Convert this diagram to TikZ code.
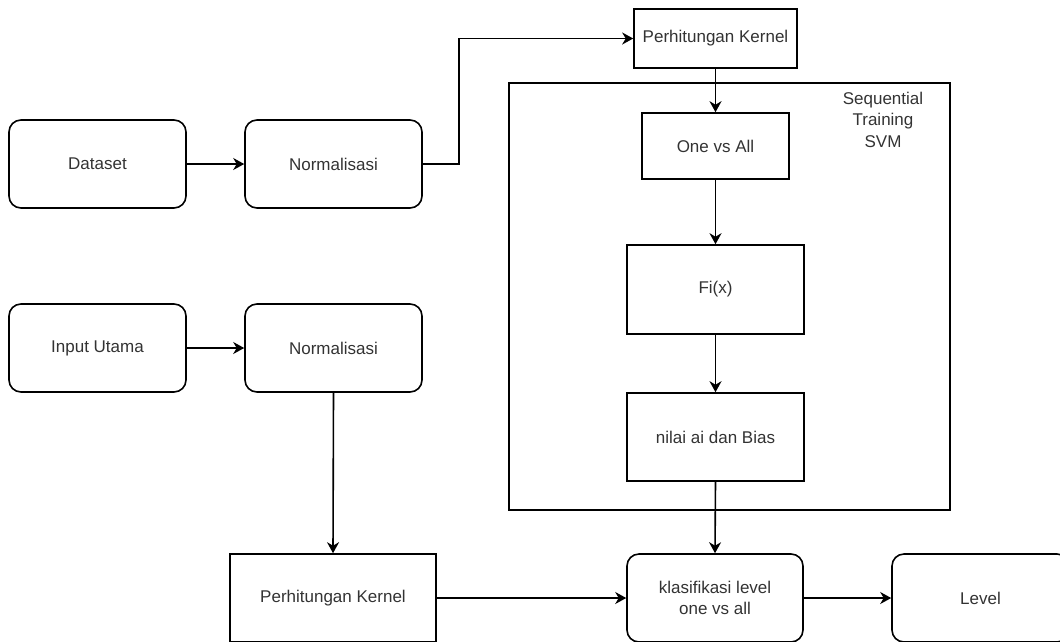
\documentclass[tikz,border=0pt]{standalone}
\usepackage{fontspec}
\setmainfont{Liberation Sans}
\usetikzlibrary{arrows.meta}
\definecolor{txt}{HTML}{333333}
\begin{document}
\begin{tikzpicture}[x=1pt,y=-1pt,
  base/.style={draw=black,line width=1.6pt,fill=white,inner sep=0pt,text=txt,
    font=\fontsize{17}{21.5}\selectfont,align=center},
  rbox/.style={base,rounded corners=12pt},
  sbox/.style={base},
  conn/.style={line width=1.6pt,-{Stealth[length=11pt,width=12pt,inset=3.5pt]}}]
\useasboundingbox (0,0) rectangle (1060,641);
% container
\node[draw=black,line width=1.6pt,minimum width=441pt,minimum height=427pt,inner sep=0pt] (svm) at (729.5,296.5) {};
\node[text=txt,font=\fontsize{17}{21.5}\selectfont,align=center] (svmlbl) at (883,119.5) {Sequential\\Training\\SVM};
% nodes
\node[rbox,minimum width=177pt,minimum height=88pt] (dataset) at (97.5,164) {Dataset};
\node[rbox,minimum width=177pt,minimum height=88pt] (norm1) at (333.5,164) {Normalisasi};
\node[sbox,minimum width=163pt,minimum height=59pt] (pktop) at (715.5,38.5) {Perhitungan Kernel};
\node[sbox,minimum width=147pt,minimum height=66pt] (ova) at (715.5,146) {One vs All};
\node[sbox,minimum width=177pt,minimum height=89pt] (fix) at (715.5,289.5) {Fi(x)};
\node[sbox,minimum width=177pt,minimum height=88pt] (nilai) at (715.5,437) {nilai ai dan Bias};
\node[rbox,minimum width=177pt,minimum height=88pt] (input) at (97.5,348) {Input Utama};
\node[rbox,minimum width=177pt,minimum height=88pt] (norm2) at (333.5,348) {Normalisasi};
\node[sbox,minimum width=206pt,minimum height=88pt] (pkbot) at (333,598) {Perhitungan Kernel};
\node[rbox,minimum width=176pt,minimum height=88pt] (klas) at (715,598) {klasifikasi level\\one vs all};
\node[rbox,minimum width=177pt,minimum height=88pt] (level) at (980.5,598) {Level};
% connectors
\draw[conn] (dataset.east) -- (norm1.west);
\draw[conn] (norm1.east) -- ++(36,0) |- (pktop.west);
\draw[conn] (pktop.south) -- (ova.north);
\draw[conn] (ova.south) -- (fix.north);
\draw[conn] (fix.south) -- (nilai.north);
\draw[conn] (nilai.south) -- (klas.north);
\draw[conn] (input.east) -- (norm2.west);
\draw[conn] (norm2.south) -- (pkbot.north);
\draw[conn] (pkbot.east) -- (klas.west);
\draw[conn] (klas.east) -- (level.west);
\end{tikzpicture}
\end{document}
